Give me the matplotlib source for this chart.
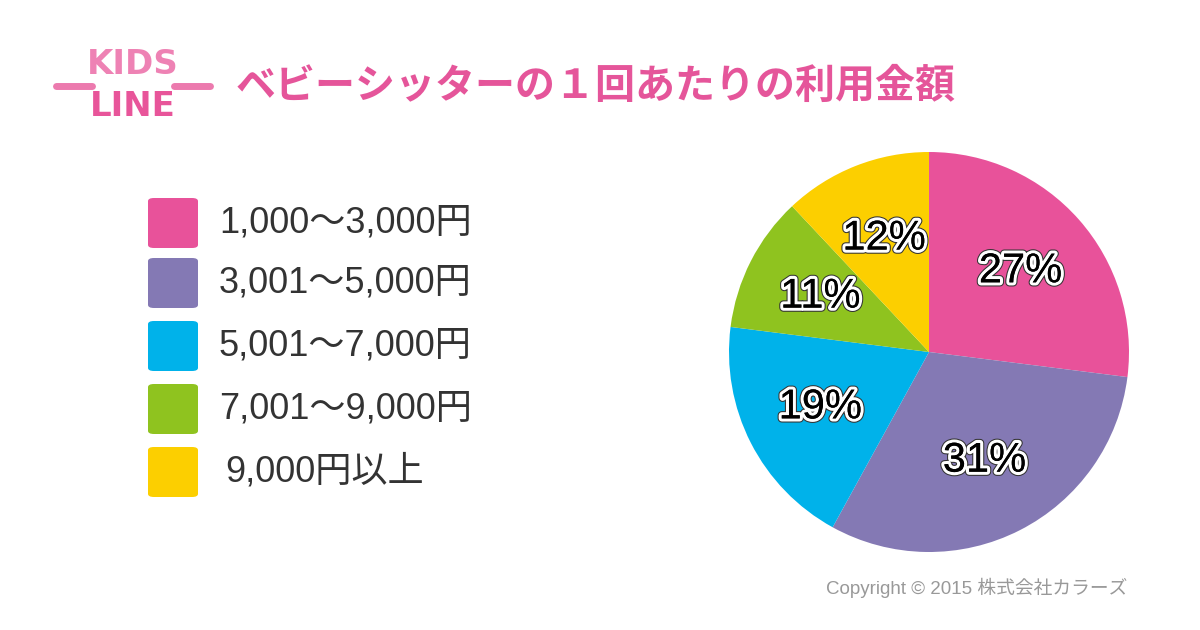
import numpy as np
from matplotlib import pyplot as plt
from matplotlib import patheffects
from matplotlib.patches import FancyBboxPatch
from matplotlib.lines import Line2D

plt.rcParams['font.family'] = ['Noto Sans CJK JP', 'DejaVu Sans']
latin = ['Liberation Sans', 'Noto Sans CJK JP']

#%% data
categories = ['1,000〜3,000円', '3,001〜5,000円', '5,001〜7,000円', '7,001〜9,000円', '9,000円以上']
shares = [27, 31, 19, 11, 12]
colors = ['#E8529A', '#8479B4', '#00B2EA', '#8FC31F', '#FCCF00']
title = 'ベビーシッターの１回あたりの利用金額'
copyright_txt = 'Copyright © 2015 株式会社カラーズ'

#%% figure, pixel based layout
W, H = 1200, 630
fig = plt.figure(figsize=(W/100, H/100), dpi=100)
fig.patch.set_facecolor('white')

def fx(px):
    return px/W

def fy(py):
    return 1 - py/H

# title
fig.text(fx(236), fy(86), title, color='#E5559A', fontsize=28.8, fontweight='bold',
         va='center', ha='left')

# logo (rough)
fig.text(fx(133), fy(64), 'KIDS', color='#EE82B4', fontsize=24.5, fontweight='bold',
         family='DejaVu Sans', va='center', ha='center')
fig.text(fx(133), fy(106), 'LINE', color='#E8559A', fontsize=24.5, fontweight='bold',
         family='DejaVu Sans', va='center', ha='center')
fig.add_artist(Line2D([fx(56), fx(92)], [fy(86), fy(86)], color='#EC7AAE', lw=5,
                      solid_capstyle='round'))
fig.add_artist(Line2D([fx(174), fx(210)], [fy(86), fy(86)], color='#EC7AAE', lw=5,
                      solid_capstyle='round'))

# legend
sq = 50
leg_top = [198, 258, 321, 384, 447]
for k in range(len(categories)):
    box = FancyBboxPatch((fx(148), fy(leg_top[k] + sq)), fx(sq), sq/H,
                         boxstyle='round,pad=0,rounding_size=0.005',
                         transform=fig.transFigure, facecolor=colors[k],
                         edgecolor='none')
    fig.add_artist(box)
    xoff = 225 if k == 4 else 219
    fig.text(fx(xoff), fy(leg_top[k] + sq/2), categories[k], color='#333333',
             fontsize=26, family=latin, va='center', ha='left')

#%% pie
ax = fig.add_axes([fx(729), fy(552), fx(400), 400/H])
wedges, texts, autotexts = ax.pie(shares, colors=colors, startangle=90, counterclock=False,
                                  autopct='%d%%', pctdistance=0.61,
                                  wedgeprops=dict(linewidth=0))
for t in autotexts:
    t.set_fontsize(30)
    t.set_family(latin)
    t.set_color('black')
    t.set_path_effects([patheffects.withStroke(linewidth=6, foreground='#333333'),
                        patheffects.withStroke(linewidth=4.5, foreground='white'),
                        patheffects.Normal()])
ax.set_xlim(-1, 1)
ax.set_ylim(-1, 1)
ax.set_aspect('equal')

# copyright
fig.text(fx(1127), fy(588), copyright_txt, color='#999999', fontsize=13.5,
         family=latin, va='center', ha='right')

plt.savefig('out.png', dpi=100)
